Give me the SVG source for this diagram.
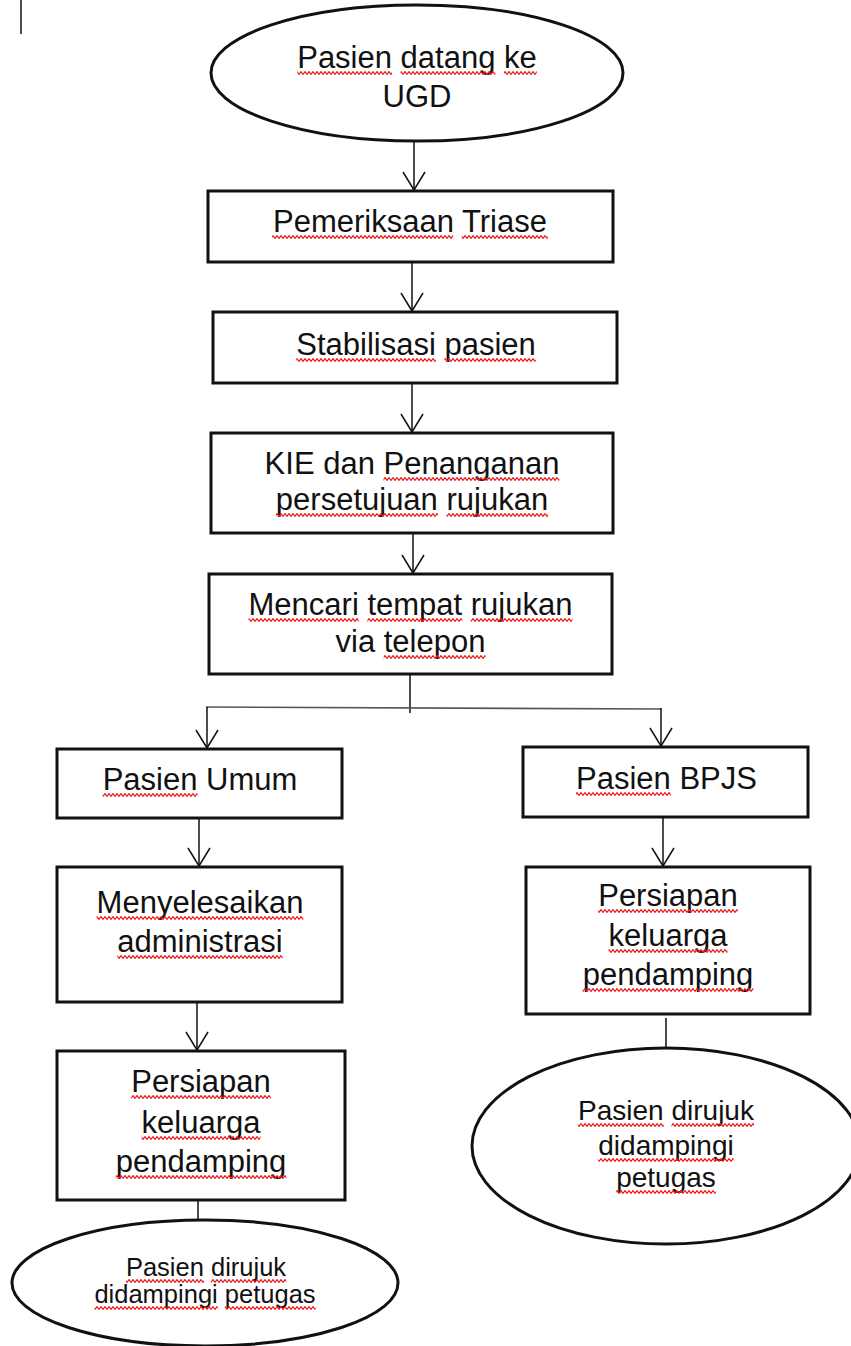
<svg xmlns="http://www.w3.org/2000/svg" width="851" height="1346" viewBox="0 0 851 1346">
<style>
.t{font-family:"Liberation Sans",Arial,sans-serif;font-size:31px;fill:#111;text-anchor:middle}
.s28{font-size:28px}
.s25{font-size:25.5px}
.box{fill:#fff;stroke:#111;stroke-width:3}
.ell{fill:#fff;stroke:#111;stroke-width:3}
.c{fill:none;stroke:#111;stroke-width:1.5}
.h{fill:none;stroke:#555;stroke-width:1.6}
.sq{fill:url(#wave)}
</style>
<defs>
<pattern id="wave" patternUnits="userSpaceOnUse" width="4" height="4">
<path d="M-1,3.4 L1,0.6 L3,3.4 L5,0.6" fill="none" stroke="#f01c1c" stroke-width="1.15"/>
</pattern>
<marker id="v" markerUnits="userSpaceOnUse" markerWidth="30" markerHeight="30" refX="0" refY="0" orient="auto" overflow="visible">
<path d="M-18,-11 L0,0 L-18,11" fill="none" stroke="#111" stroke-width="1.5"/>
</marker>
</defs>
<rect width="851" height="1346" fill="#fff"/>
<line x1="21" y1="0" x2="21" y2="34" stroke="#111" stroke-width="1.5"/>

<g id="connectors">
<path class="c" d="M414,141 V190" marker-end="url(#v)"/>
<path class="c" d="M412,262 V311" marker-end="url(#v)"/>
<path class="c" d="M412,383 V432" marker-end="url(#v)"/>
<path class="c" d="M413,533 V573" marker-end="url(#v)"/>
<path class="c" d="M410,674 V713"/>
<path class="h" d="M206,707 L661,709"/>
<path class="c" d="M207,707 V748" marker-end="url(#v)"/>
<path class="c" d="M661,708 V746" marker-end="url(#v)"/>
<path class="c" d="M199,818 V866" marker-end="url(#v)"/>
<path class="c" d="M663,817 V866" marker-end="url(#v)"/>
<path class="c" d="M197,1002 V1050" marker-end="url(#v)"/>
<path class="c" d="M198,1200 V1220"/>
<path class="c" d="M666,1018 V1048"/>
</g>

<g id="n-start">
<ellipse class="ell" cx="417" cy="73" rx="206" ry="68"/>
<text class="t" x="417" y="68">Pasien datang ke</text>
<text class="t" x="417" y="107">UGD</text>
<g transform="translate(0,71)"><rect class="sq" x="297.3" y="0" width="94.7" height="4"/><rect class="sq" x="400.6" y="0" width="94.8" height="4"/><rect class="sq" x="504" y="0" width="32.8" height="4"/></g>
</g>

<g id="n-triase">
<rect class="box" x="208" y="191" width="405" height="71"/>
<text class="t" x="410" y="232">Pemeriksaan Triase</text>
<g transform="translate(0,235)"><rect class="sq" x="272.2" y="0" width="180.9" height="4"/><rect class="sq" x="461.7" y="0" width="86.1" height="4"/></g>
</g>

<g id="n-stabil">
<rect class="box" x="213" y="312" width="404" height="71"/>
<text class="t" x="416" y="355">Stabilisasi pasien</text>
<g transform="translate(0,358)"><rect class="sq" x="296.3" y="0" width="139.5" height="4"/><rect class="sq" x="444.4" y="0" width="91.3" height="4"/></g>
</g>

<g id="n-kie">
<rect class="box" x="211" y="433" width="402" height="100"/>
<text class="t" x="412" y="474">KIE dan Penanganan</text>
<text class="t" x="412" y="510">persetujuan rujukan</text>
<g transform="translate(0,477)"><rect class="sq" x="383.5" y="0" width="175.8" height="4"/></g>
<g transform="translate(0,513)"><rect class="sq" x="275.9" y="0" width="162" height="4"/><rect class="sq" x="446.5" y="0" width="101.6" height="4"/></g>
</g>

<g id="n-mencari">
<rect class="box" x="209" y="574" width="403" height="100"/>
<text class="t" x="410.5" y="615">Mencari tempat rujukan</text>
<text class="t" x="410.5" y="652">via telepon</text>
<g transform="translate(0,618)"><rect class="sq" x="248.6" y="0" width="110.2" height="4"/><rect class="sq" x="367.4" y="0" width="94.8" height="4"/><rect class="sq" x="470.8" y="0" width="101.6" height="4"/></g>
<g transform="translate(0,655)"><rect class="sq" x="383.7" y="0" width="101.7" height="4"/></g>
</g>

<g id="n-umum">
<rect class="box" x="57" y="749" width="285" height="69"/>
<text class="t" x="200" y="790">Pasien Umum</text>
<g transform="translate(0,793)"><rect class="sq" x="102.7" y="0" width="94.8" height="4"/></g>
</g>

<g id="n-bpjs">
<rect class="box" x="523" y="747" width="285" height="70"/>
<text class="t" x="666.5" y="789">Pasien BPJS</text>
<g transform="translate(0,792)"><rect class="sq" x="576" y="0" width="94.8" height="4"/></g>
</g>

<g id="n-admin">
<rect class="box" x="57" y="867" width="285" height="135"/>
<text class="t" x="200" y="913">Menyelesaikan</text>
<text class="t" x="200" y="952">administrasi</text>
<g transform="translate(0,916)"><rect class="sq" x="96.6" y="0" width="206.7" height="4"/></g>
<g transform="translate(0,955)"><rect class="sq" x="117.3" y="0" width="165.4" height="4"/></g>
</g>

<g id="n-persiapan-umum">
<rect class="box" x="57" y="1051" width="288" height="149"/>
<text class="t" x="201" y="1092">Persiapan</text>
<text class="t" x="201" y="1133">keluarga</text>
<text class="t" x="201" y="1172">pendamping</text>
<g transform="translate(0,1095)"><rect class="sq" x="131.2" y="0" width="139.6" height="4"/></g>
<g transform="translate(0,1136)"><rect class="sq" x="141.6" y="0" width="118.9" height="4"/></g>
<g transform="translate(0,1175)"><rect class="sq" x="115.7" y="0" width="170.6" height="4"/></g>
</g>

<g id="n-persiapan-bpjs">
<rect class="box" x="526" y="867" width="284" height="147"/>
<text class="t" x="668" y="906">Persiapan</text>
<text class="t" x="668" y="946">keluarga</text>
<text class="t" x="668" y="985">pendamping</text>
<g transform="translate(0,909)"><rect class="sq" x="598.2" y="0" width="139.6" height="4"/></g>
<g transform="translate(0,949)"><rect class="sq" x="608.6" y="0" width="118.9" height="4"/></g>
<g transform="translate(0,988)"><rect class="sq" x="582.7" y="0" width="170.6" height="4"/></g>
</g>

<g id="n-end-bpjs">
<ellipse class="ell" cx="666" cy="1146" rx="194" ry="98"/>
<text class="t s28" x="666" y="1120">Pasien dirujuk</text>
<text class="t s28" x="666" y="1155">didampingi</text>
<text class="t s28" x="666" y="1187">petugas</text>
<g transform="translate(0,1123)"><rect class="sq" x="578.1" y="0" width="85.6" height="4"/><rect class="sq" x="671.5" y="0" width="82.5" height="4"/></g>
<g transform="translate(0,1158)"><rect class="sq" x="598.3" y="0" width="135.4" height="4"/></g>
<g transform="translate(0,1190)"><rect class="sq" x="616.2" y="0" width="99.6" height="4"/></g>
</g>

<g id="n-end-umum">
<ellipse class="ell" cx="205" cy="1283" rx="193" ry="63"/>
<text class="t s25" x="206" y="1276">Pasien dirujuk</text>
<text class="t s25" x="205" y="1303">didampingi petugas</text>
<g transform="translate(0,1279)"><rect class="sq" x="126" y="0" width="78" height="4"/><rect class="sq" x="211.1" y="0" width="75.1" height="4"/></g>
<g transform="translate(0,1306)"><rect class="sq" x="94.5" y="0" width="123.3" height="4"/><rect class="sq" x="224.9" y="0" width="90.7" height="4"/></g>
</g>
</svg>
